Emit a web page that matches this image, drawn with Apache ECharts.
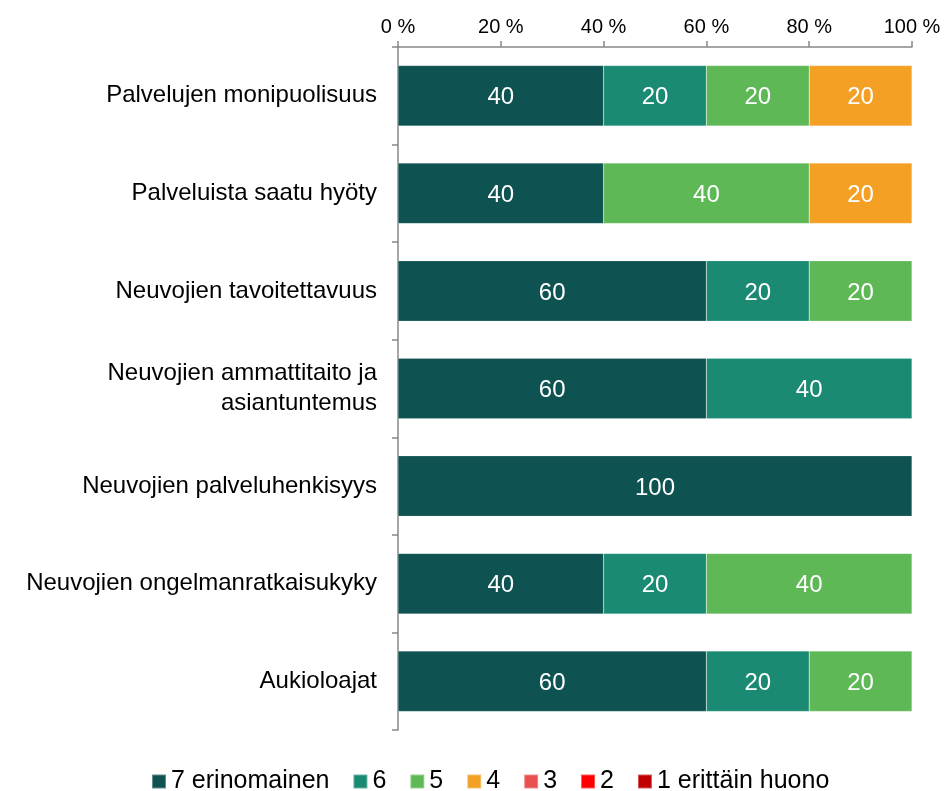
<!DOCTYPE html>
<html>
<head>
<meta charset="utf-8">
<script src="https://cdn.jsdelivr.net/npm/echarts@6/dist/echarts.min.js"></script>
<style>
html, body { margin: 0; padding: 0; background: #fff; }
#chart { width: 944px; height: 791px; }
</style>
</head>
<body>
<div id="chart"></div>
<script>
var categories = [
    'Palvelujen monipuolisuus',
    'Palveluista saatu hyöty',
    'Neuvojien tavoitettavuus',
    'Neuvojien ammattitaito ja\nasiantuntemus',
    'Neuvojien palveluhenkisyys',
    'Neuvojien ongelmanratkaisukyky',
    'Aukioloajat'
];
var seriesNames = ['7 erinomainen', '6', '5', '4', '3', '2', '1 erittäin huono'];
var colors = ['#0e5252', '#1b8a72', '#5fb856', '#f3a025', '#e8504f', '#ff0000', '#c00000'];

var s7 = [40, 40, 60, 60, 100, 40, 60];
var s6 = [20, 0, 20, 40, 0, 20, 20];
var s5 = [20, 40, 20, 0, 0, 40, 20];
var s4 = [20, 20, 0, 0, 0, 0, 0];
var s3 = [0, 0, 0, 0, 0, 0, 0];
var s2 = [0, 0, 0, 0, 0, 0, 0];
var s1 = [0, 0, 0, 0, 0, 0, 0];
var xTicks = [0, 20, 40, 60, 80, 100];

var dom = document.getElementById('chart');
var myChart = echarts.init(dom);
var allValues = [s7, s6, s5, s4, s3, s2, s1];
var font = 'Liberation Sans, Arial, sans-serif';

var series = seriesNames.map(function (name, i) {
    return {
        name: name,
        type: 'bar',
        stack: 'total',
        barWidth: '62%',
        data: allValues[i].map(function (v) { return v === 0 ? null : v; }),
        itemStyle: { color: colors[i], borderColor: 'rgba(255,255,255,0.35)', borderWidth: 0.5 },
        label: {
            show: true,
            position: 'inside',
            color: '#fff',
            fontSize: 24,
            fontFamily: font,
            offset: [0, 2],
            formatter: '{c}'
        }
    };
});

var option = {
    animation: false,
    color: colors,
    textStyle: { fontFamily: font },
    grid: { left: 398, right: 32, top: 47, bottom: 61, containLabel: false },
    legend: {
        top: 764,
        left: 146,
        itemWidth: 14,
        itemHeight: 14,
        itemGap: 23,
        icon: 'rect',
        textStyle: { fontSize: 25, color: '#000', fontFamily: font },
        data: seriesNames
    },
    xAxis: {
        type: 'value',
        position: 'top',
        min: 0,
        max: 100,
        interval: 20,
        axisLine: { show: true, lineStyle: { color: '#888', width: 1.5 } },
        axisTick: { show: true, length: 6, lineStyle: { color: '#888', width: 1.5 } },
        splitLine: { show: false },
        axisLabel: {
            color: '#000',
            fontSize: 20,
            margin: 10,
            formatter: function (v) { return xTicks.indexOf(v) >= 0 ? v + ' %' : ''; }
        }
    },
    yAxis: {
        type: 'category',
        inverse: true,
        data: categories,
        axisLine: { show: true, lineStyle: { color: '#888', width: 1.5 } },
        axisTick: { show: true, length: 6, lineStyle: { color: '#888', width: 1.5 } },
        axisLabel: {
            color: '#000',
            fontSize: 24,
            margin: 21,
            lineHeight: 30,
            align: 'right'
        }
    },
    series: series
};
myChart.setOption(option);
</script>
</body>
</html>
